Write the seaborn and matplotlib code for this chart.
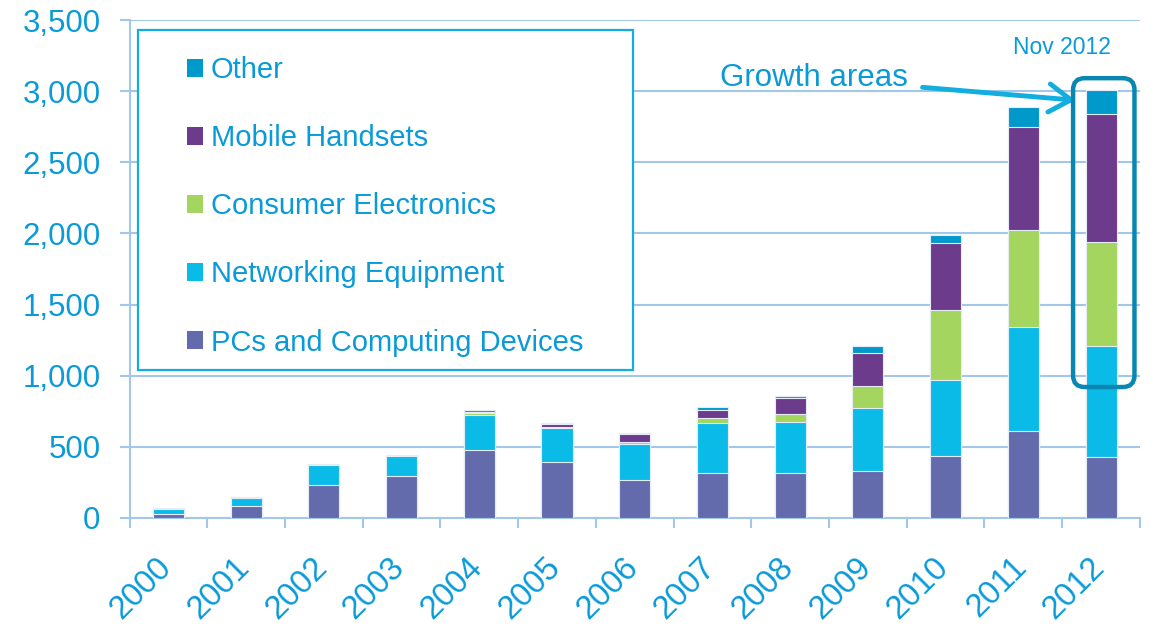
import matplotlib
matplotlib.use("Agg")
import matplotlib.pyplot as plt
from matplotlib.patches import Patch, Rectangle, FancyBboxPatch
from matplotlib.ticker import FuncFormatter, FixedLocator
from matplotlib.transforms import ScaledTranslation
import numpy as np
import pandas as pd
import seaborn as sns

#%% data

years = ["2000", "2001", "2002", "2003", "2004", "2005", "2006",
         "2007", "2008", "2009", "2010", "2011", "2012"]
pcs = [30, 84, 234, 293, 478, 391, 265, 314, 314, 328, 434, 609, 429]
networking = [33, 59, 141, 143, 248, 244, 257, 356, 363, 445, 538, 733, 778]
consumer = [0, 0, 0, 0, 10, 5, 14, 30, 54, 155, 488, 680, 735]
mobile = [0, 0, 0, 0, 10, 23, 52, 61, 110, 232, 473, 728, 897]
other = [3, 2, 5, 7, 11, 5, 9, 17, 19, 50, 54, 139, 169]

series = ["PCs and Computing Devices", "Networking Equipment",
          "Consumer Electronics", "Mobile Handsets", "Other"]
colors = ["#636BAC", "#0ABBE8", "#A3D55F", "#6C3B8B", "#0099CC"]

df = pd.DataFrame({"year": years, series[0]: pcs, series[1]: networking,
                   series[2]: consumer, series[3]: mobile, series[4]: other})
cum = df[series].cumsum(axis=1)

#%% style

sns.set_theme(style="white")
plt.rcParams["font.family"] = ["Liberation Sans", "DejaVu Sans"]
txt = "#0A9AD8"
grid = "#A3C7E8"

fig = plt.figure(figsize=(11.52, 6.3), dpi=100)
ax = fig.add_axes([0.1125, 0.178, 0.877, 0.79])

# stacked bars: draw cumulative heights from the top layer down
for name, col in zip(reversed(series), reversed(colors)):
    sns.barplot(x=df["year"], y=cum[name], color=col, saturation=1,
                width=0.4, edgecolor="#E6ECF6", linewidth=0.8, ax=ax, zorder=3)

ax.set_xlim(-0.5, len(years) - 0.5)
ax.set_ylim(0, 3500)
ax.set_yticks(np.arange(0, 3501, 500))
ax.yaxis.set_major_formatter(FuncFormatter(lambda v, p: f"{int(v):,}"))
ax.set_xlabel("")
ax.set_ylabel("")

ax.grid(axis="y", color=grid, linewidth=1.5, zorder=0)
ax.set_axisbelow(True)
for s in ["top", "right"]:
    ax.spines[s].set_visible(False)
for s in ["left", "bottom"]:
    ax.spines[s].set_color(grid)
    ax.spines[s].set_linewidth(1.5)

ax.tick_params(axis="y", colors=grid, labelcolor=txt, labelsize=22.5,
               length=7, width=1.5, direction="out", pad=14, left=True)
ax.tick_params(axis="x", which="major", length=0, labelcolor=txt,
               labelsize=23.5, pad=2)
ax.xaxis.set_minor_locator(FixedLocator(np.arange(-0.5, len(years), 1)))
ax.tick_params(axis="x", which="minor", bottom=True, length=7, width=1.5,
               colors=grid, direction="out")
shift = ScaledTranslation(-12.5 / 100, -31 / 100, fig.dpi_scale_trans)
for lab in ax.get_xticklabels():
    lab.set_rotation(45)
    lab.set_ha("right")
    lab.set_va("top")
    lab.set_rotation_mode("anchor")
    lab.set_transform(lab.get_transform() + shift)

# legend in its own frame
handles = [Patch(facecolor=c, edgecolor="none") for c in reversed(colors)]
ax.add_patch(Rectangle((0.008, 0.297), 0.49, 0.683, transform=ax.transAxes,
                       fill=True, facecolor="white", edgecolor="#12AEE0",
                       linewidth=1.6, zorder=5))
leg = ax.legend(handles, list(reversed(series)), loc="center",
                bbox_to_anchor=(0.253, 0.626), frameon=False,
                fontsize=21, labelcolor=txt, labelspacing=1.375,
                handlelength=0.55, handleheight=0.55, handletextpad=0.25)
leg.set_zorder(6)

# annotations
ax.annotate("Growth areas", xy=(11.67, 2937), xytext=(8.31, 3092),
            color=txt, fontsize=22.5, ha="center", va="center", zorder=6,
            arrowprops=dict(arrowstyle="->,head_length=0.7,head_width=0.45",
                            lw=3.5, color="#12AEE0", shrinkA=8, shrinkB=0))
ax.text(11.5, 3310, "Nov 2012", color=txt, fontsize=16.5,
        ha="center", va="center")
ax.add_patch(FancyBboxPatch((11.64, 920), 0.79, 2172,
                            boxstyle="round,pad=0,rounding_size=0.15",
                            mutation_aspect=546, fill=False,
                            edgecolor="#0A86B2", linewidth=3.2, zorder=6,
                            clip_on=False))

fig.savefig("out.png", dpi=100)
